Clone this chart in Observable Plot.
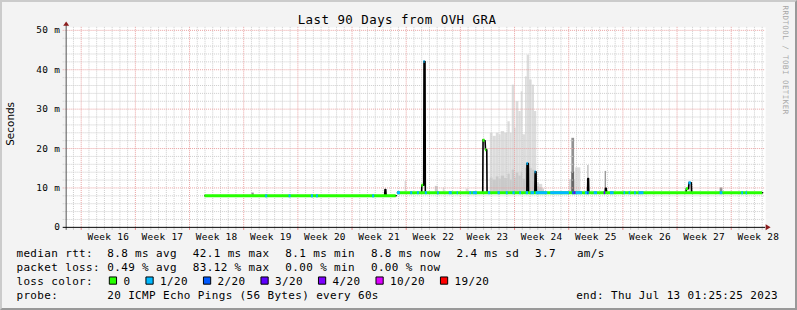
<!DOCTYPE html>
<html><head><meta charset="utf-8">
<script src="https://cdn.jsdelivr.net/npm/d3@7"></script>
<script src="https://cdn.jsdelivr.net/npm/@observablehq/plot@0.6"></script>
<style>
html,body{margin:0;padding:0;background:#fff;}
#frame{position:relative;width:797px;height:310px;box-sizing:border-box;background:#f3f3f3;border-top:2px solid #cbcbcb;border-left:2px solid #cbcbcb;border-right:2px solid #999;border-bottom:2px solid #999;overflow:hidden}
#frame svg{position:absolute;left:-2px;top:-2px}
</style></head><body><div id="frame"></div>
<script>
// ---------- data ----------
const title = "Last 90 Days from OVH GRA";
const yAxisTitle = "Seconds";
const watermark = "RRDTOOL / TOBI OETIKER";
const weekLabels = ["Week 16","Week 17","Week 18","Week 19","Week 20","Week 21","Week 22","Week 23","Week 24","Week 25","Week 26","Week 27","Week 28"];
const yTicks = [0, 10, 20, 30, 40, 50];
const yTickLabels = ["0", "10 m", "20 m", "30 m", "40 m", "50 m"];
// time axis in days since graph start (Fri Apr 14 01:25:25 2023), 90 days shown
const firstMidnight = 0.9407;   // first day boundary after start
const firstSunday = 1.9407;     // first week boundary after start

const lossLabels = ["0", "1/20", "2/20", "3/20", "4/20", "10/20", "19/20"];
const lossColors = ["#26ff00", "#00b8ff", "#0059ff", "#5e00ff", "#7e00ff", "#dd00ff", "#ff0000"];

// median rtt polyline (day, ms); NaN = no data
const medianDay = [17.94, 41.15, 41.2, 41.3, 41.35, 42.65, 42.7,
  42.81, 45.93, 45.96, 46.2, 46.24, 46.37, 46.41,
  53.83, 53.87, 54.13, 54.19, 54.35, 54.39,
  59.53, 59.55, 59.72, 59.75,
  60.56, 60.6, 60.72, 60.76,
  67.37, 67.41, 67.5, 67.54,
  69.66, 69.69, 69.79, 69.83,
  80.1, 80.14, 80.42, 80.48, 80.78, 80.83, 90];
const medianMs = [8.0, 8.0, 9.6, 9.6, 8.0, 8.0, NaN,
  8.8, 8.8, 10.7, 10.7, 42.1, 42.1, 8.8,
  8.8, 22.2, 22.0, 19.7, 19.7, 8.8,
  8.8, 16.2, 16.2, 8.8,
  8.8, 14.1, 14.1, 8.8,
  8.8, 12.4, 12.4, 8.8,
  8.8, 9.9, 9.9, 8.8,
  8.8, 9.8, 9.8, 11.3, 11.3, 8.8, 8.8];

// loss-coloured median runs
const runStart = [17.94, 42.81, 45.96, 46.24, 53.87, 54.19, 59.55, 60.6, 80.14, 80.48,
  25.78, 28.8, 31.69, 32.34, 39.6,
  42.81, 44.52, 45.39, 46.41, 48.0, 49.5, 50.53, 52.16, 52.59, 54.55, 55.8, 56.87, 57.73, 58.59, 59.44, 60.08, 60.72, 62.61, 65.87, 67.11, 68.23, 70.33, 72.09, 72.73, 73.45, 74.02, 84.51, 87.3, 87.85,
  65.44, 67.37, 65.66, 69.52];
const runEnd = [42.65, 90, 46.2, 46.37, 54.13, 54.35, 59.72, 60.72, 80.42, 80.78,
  26.04, 29.06, 31.95, 32.59, 39.86,
  43.2, 44.78, 45.64, 46.67, 48.21, 49.89, 50.69, 52.42, 53.14, 54.86, 56.1, 57.12, 58.02, 58.85, 59.75, 60.52, 62.23, 65.02, 66.73, 67.37, 68.66, 70.8, 72.3, 72.94, 73.67, 74.66, 84.86, 87.52, 88.03,
  65.66, 67.59, 65.87, 69.72];
const runMs = [8.0, 8.8, 10.7, 42.1, 22.1, 19.7, 16.2, 14.1, 9.8, 11.3,
  8.0, 8.0, 8.0, 8.0, 8.0,
  8.8, 8.8, 8.8, 8.8, 8.8, 8.8, 8.8, 8.8, 8.8, 8.8, 8.8, 8.8, 8.8, 8.8, 8.8, 8.8, 8.8, 8.8, 8.8, 8.8, 8.8, 8.8, 8.8, 8.8, 8.8, 8.8, 8.8, 8.8, 8.8,
  8.8, 8.8, 8.8, 8.8];
const runLoss = [0, 0, 0, 1, 0, 0, 1, 1, 0, 1,
  1, 1, 1, 1, 1,
  1, 1, 1, 1, 1, 1, 1, 1, 1, 1, 1, 1, 1, 1, 1, 1, 1, 1, 1, 1, 1, 1, 1, 1, 1, 1, 1, 1, 1,
  2, 2, 3, 3];

// smoke (ping spread) in the busy period: bin edges, max and inner spread
const smokeEdges = [54.81, 55.16, 55.58, 55.93, 56.22, 56.66, 57.09, 57.38, 57.64, 57.95, 58.15, 58.5, 58.8, 59.01, 59.36, 59.57, 59.88, 60.21, 60.52, 60.81, 61.16, 61.58, 61.8];
const smokeMax = [23.9, 23.1, 23.9, 23.5, 24.3, 23.9, 26.8, 23.9, 36.1, 25.2, 31.9, 29.4, 34.4, 23.5, 38.2, 43.7, 37.4, 36.1, 29.4, 11.3, 10.9, 9.8];
const smokeInner = [12.5, 12.0, 12.8, 12.2, 13.0, 12.4, 13.5, 12.0, 14.5, 12.5, 13.8, 13.0, 14.0, 12.2, 15.0, 16.5, 15.0, 14.5, 13.0, 10.3, 10.0, 9.5];
// isolated smoke patches
const puffStart = [24.0, 43.8, 47.7, 48.73, 51.69, 65.02, 65.83, 65.35, 65.35, 67.37, 69.65, 80.48, 84.51];
const puffEnd = [24.3, 44.01, 48.09, 48.95, 52.03, 66.08, 66.51, 65.7, 65.7, 67.59, 69.81, 80.78, 84.86];
const puffLow = [8.0, 8.8, 8.8, 8.8, 8.8, 8.8, 8.8, 8.8, 8.8, 8.8, 8.8, 8.8, 8.8];
const puffHigh = [8.7, 11.7, 10.4, 10.0, 9.7, 12.1, 15.1, 22.6, 14.0, 15.7, 14.2, 11.7, 10.0];
const puffShade = [2, 0, 1, 0, 0, 0, 0, 2, 3, 1, 2, 0, 2];
const smokeShades = ["#dcdcdc", "#c9c9c9", "#929292", "#666666"];

// legend values
const rttStats = [8.8, 42.1, 8.1, 8.8, 2.4];
const rttStatNames = ["avg", "max", "min", "now", "sd"];
const amPerS = 3.7;
const lossStats = [0.49, 83.12, 0.00, 0.00];
const lossStatNames = ["avg", "max", "min", "now"];
const probeText = "20 ICMP Echo Pings (56 Bytes) every 60s";
const endTime = "Thu Jul 13 01:25:25 2023";

// ---------- build ----------
const W = 797, H = 310, ML = 66, MR = 31, MT = 30, MB = 82;
const median = medianDay.map((d, i) => ({day: d, ms: medianMs[i]}));
const runs = runStart.map((s, i) => ({s, e: runEnd[i], ms: runMs[i], loss: runLoss[i]}));
const smoke = [];
smokeMax.forEach((v, i) => smoke.push({s: smokeEdges[i], e: smokeEdges[i + 1], lo: 8.8, hi: v, shade: 0}));
smokeInner.forEach((v, i) => smoke.push({s: smokeEdges[i], e: smokeEdges[i + 1], lo: 8.8, hi: v, shade: 1}));
puffStart.forEach((s, i) => smoke.push({s, e: puffEnd[i], lo: puffLow[i], hi: puffHigh[i], shade: puffShade[i]}));

const dayTicks = d3.range(0, 90).map(k => firstMidnight + k).filter(d => d < 90);
const weekTicks = weekLabels.map((_, k) => firstSunday + 7 * k).filter(d => d < 90);
const minorX = dayTicks.filter(d => !weekTicks.some(w => Math.abs(w - d) < 1e-6));
const minorY = d3.range(2, 50, 2).filter(v => v % 10 !== 0);
const majorY = yTicks.filter(v => v > 0);

const grid = {strokeDasharray: "1,1", strokeWidth: 1};
const minorC = "#cdcdcd", majorC = "#e9a0a0";

const upTri = {draw(c) { c.moveTo(-3, 1.5); c.lineTo(0, -3); c.lineTo(3, 1.5); c.closePath(); }};
const rightTri = {draw(c) { c.moveTo(-2, -3); c.lineTo(3, 0); c.lineTo(-2, 3); c.closePath(); }};

const T = [];
function txt(str, X, Y, o = {}) {
  T.push(Plot.text([str], {text: d => d, frameAnchor: "top-left", dx: X - ML, dy: Y - MT,
    textAnchor: "start", lineAnchor: "bottom", fontSize: 11, fill: "#000", ...o}));
}
txt(title, 398.5, 24, {textAnchor: "middle", fontSize: 12.5});
txt(yAxisTitle, 10.5, 124, {textAnchor: "middle", lineAnchor: "middle", rotate: -90, fontSize: 10.5, fontFamily: "DejaVu Sans"});
txt(watermark, 786.5, 5, {rotate: 90, fontSize: 7.5, fill: "#a6a6a6"});

const CH = 7, GAP = 16, COL = 107.3;
// row 1
txt("median rtt:", 16, 258);
{
  let x = COL;
  const items = rttStats.map((v, i) => `${v.toFixed(1)} ms ${rttStatNames[i]}`);
  items.push(`${amPerS.toFixed(1)}   am/s`);
  items.forEach(s => { txt(s, x, 258); x += s.length * CH + GAP; });
}
// row 2
txt("packet loss:", 16, 272);
{
  let x = COL;
  lossStats.forEach((v, i) => { const s = `${v.toFixed(2)} % ${lossStatNames[i]}`; txt(s, x, 272); x += s.length * CH + GAP; });
}
// row 3
txt("loss color:", 16, 286);
const boxes = [];
{
  let x = 109;
  lossLabels.forEach((lab, i) => {
    boxes.push(Plot.dot([lab], {frameAnchor: "top-left", dx: x + 4 - ML, dy: 281.5 - MT, symbol: "square", r: 4.1,
      fill: lossColors[i], stroke: "#000", strokeWidth: 1}));
    txt(lab, x + 14.5, 286);
    x += 14.5 + lab.length * CH + 15.3;
  });
}
// row 4
txt("probe:", 16, 300);
txt(probeText, COL, 300);
txt(`end: ${endTime}`, 781.5, 300, {textAnchor: "end"});

const chart = Plot.plot({
  width: W, height: H, marginTop: MT, marginBottom: MB, marginLeft: ML, marginRight: MR,
  x: {domain: [0, 90], axis: null},
  y: {domain: [0, 50], axis: null},
  color: {type: "identity"},
  style: {background: "transparent", fontFamily: "'DejaVu Sans Mono', monospace", color: "#000", overflow: "visible"},
  marks: [
    Plot.frame({fill: "#fff", stroke: "none", insetTop: -3, insetRight: -3}),
    Plot.rect(smoke, {x1: "s", x2: "e", y1: "lo", y2: "hi", fill: d => smokeShades[d.shade]}),
    // grid drawn over the smoke
    Plot.ruleX(minorX, {...grid, stroke: minorC, insetTop: -3}),
    Plot.ruleY(minorY, {...grid, stroke: minorC, insetLeft: -3, insetRight: -2}),
    Plot.ruleX(weekTicks, {...grid, stroke: majorC, insetTop: -3}),
    Plot.ruleY(majorY, {...grid, stroke: majorC, insetLeft: -3, insetRight: -2}),
    Plot.line(median, {x: "day", y: "ms", stroke: "#000", strokeWidth: 1.6}),
    Plot.ruleY(runs, {y: "ms", x1: "s", x2: "e", stroke: d => lossColors[d.loss], strokeWidth: 3}),
    // small ticks under the time axis
    Plot.ruleX(minorX, {stroke: "#c8c8c8", insetTop: H - MT - MB + 1, insetBottom: -3}),
    Plot.ruleX(weekTicks, {stroke: "#e08080", insetTop: H - MT - MB + 1, insetBottom: -3}),
    // axis lines and arrows
    Plot.ruleX([0], {stroke: "#555", insetTop: -5, insetBottom: -3}),
    Plot.ruleY([0], {stroke: "#000", insetLeft: -3, insetRight: -3}),
    Plot.dot([0], {frameAnchor: "top-left", dy: -6, symbol: upTri, r: 3, fill: "#8b1c1c", stroke: "none"}),
    Plot.dot([0], {frameAnchor: "bottom-right", dx: 5, symbol: rightTri, r: 3, fill: "#8b1c1c", stroke: "none"}),
    // tick labels
    Plot.text(yTicks, {y: d => d, text: (d, i) => yTickLabels[i], frameAnchor: "left", dx: -6,
      textAnchor: "end", lineAnchor: "middle", fontSize: 9.5, fill: "#000"}),
    Plot.text(weekLabels, {x: (d, i) => firstSunday + 3.5 + 7 * i, text: d => d, frameAnchor: "bottom",
      dy: 12.5, lineAnchor: "bottom", fontSize: 9.5, fill: "#000"}),
    ...boxes,
    ...T
  ]
});

const spacing = {"11": 0.38, "12.5": 0.47, "9.5": 0.28, "7.5": 0.48};
d3.select(chart).selectAll("g[font-size]").each(function () {
  const fs = String(parseFloat(this.getAttribute("font-size")));
  if (spacing[fs] != null) this.setAttribute("letter-spacing", spacing[fs]);
});
document.getElementById("frame").appendChild(chart);
</script></body></html>
